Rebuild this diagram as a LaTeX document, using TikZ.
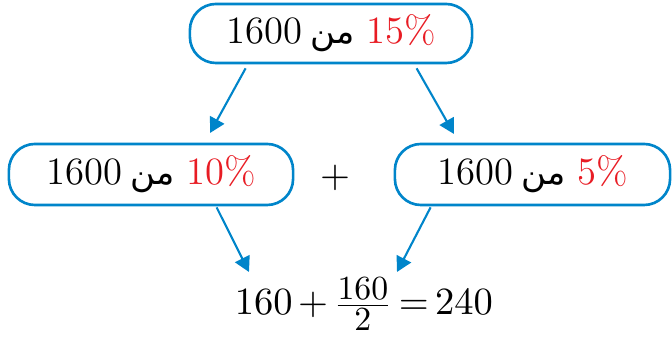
\documentclass[tikz,border=0pt]{standalone}
\usepackage{fontspec}
\usepackage{amsmath}
\usepackage{tikz}
\usetikzlibrary{arrows.meta, calc}
\TeXXeTstate=1
\newfontfamily\arabicfont[Script=Arabic, Scale=0.88]{DejaVu Sans}
\definecolor{BoxBlue}{RGB}{0,133,202}
\definecolor{PctRed}{RGB}{232,28,36}
\newcommand{\minword}{\hspace{0.22em}{\arabicfont\beginR من\endR}\hspace{0.3em}}
\newcommand{\fracnum}[1]{\text{\fontsize{9.6}{10}\selectfont #1}}

\begin{document}
\begin{tikzpicture}[x=0.01cm, y=-0.01cm,
          every node/.style={font=\fontsize{11}{13}\selectfont},
          part/.style={rectangle, rounded corners=0.26cm, draw=BoxBlue,
                       line width=0.75pt, minimum height=0.61cm,
                       inner sep=0pt, align=center},
          arr/.style={-{Triangle[length=0.15cm, width=0.16cm]},
                      BoxBlue, line width=0.6pt}
        ]
        \useasboundingbox (0,0) rectangle (672,340);
        \node[part, minimum width=2.82cm, minimum height=0.59cm] (whole) at (331, 33.5)
              {1600\minword\textcolor{PctRed}{15\%}};
        \node[part, minimum width=2.84cm] (ten)  at (151, 174.5)
              {1600\minword\textcolor{PctRed}{10\%}};
        \node[part, minimum width=2.75cm] (five) at (532.5, 174.5)
              {1600\minword\textcolor{PctRed}{5\%}};
        \node (plus) at (335, 178) {$+$};
        \node[anchor=base] (sum) at (364, 315)
              {$\medmuskip=2.5mu \thickmuskip=3mu
                160+\tfrac{\fracnum{160}}{\fracnum{2}}=240$};

        % Split lines
        \coordinate (tl) at (210, 133);
        \coordinate (tr) at (454, 134);
        \coordinate (bl) at (249, 272);
        \coordinate (br) at (397, 272);
        \draw[arr] ($(whole.south west)+(57,4)$) -- (tl);
        \draw[arr] ($(whole.south west)+(228,4)$) -- (tr);
        \draw[arr] ($(ten.south west)+(209,1)$) -- (bl);
        \draw[arr] ($(five.south west)+(37,1)$) -- (br);
      \end{tikzpicture}
\end{document}
